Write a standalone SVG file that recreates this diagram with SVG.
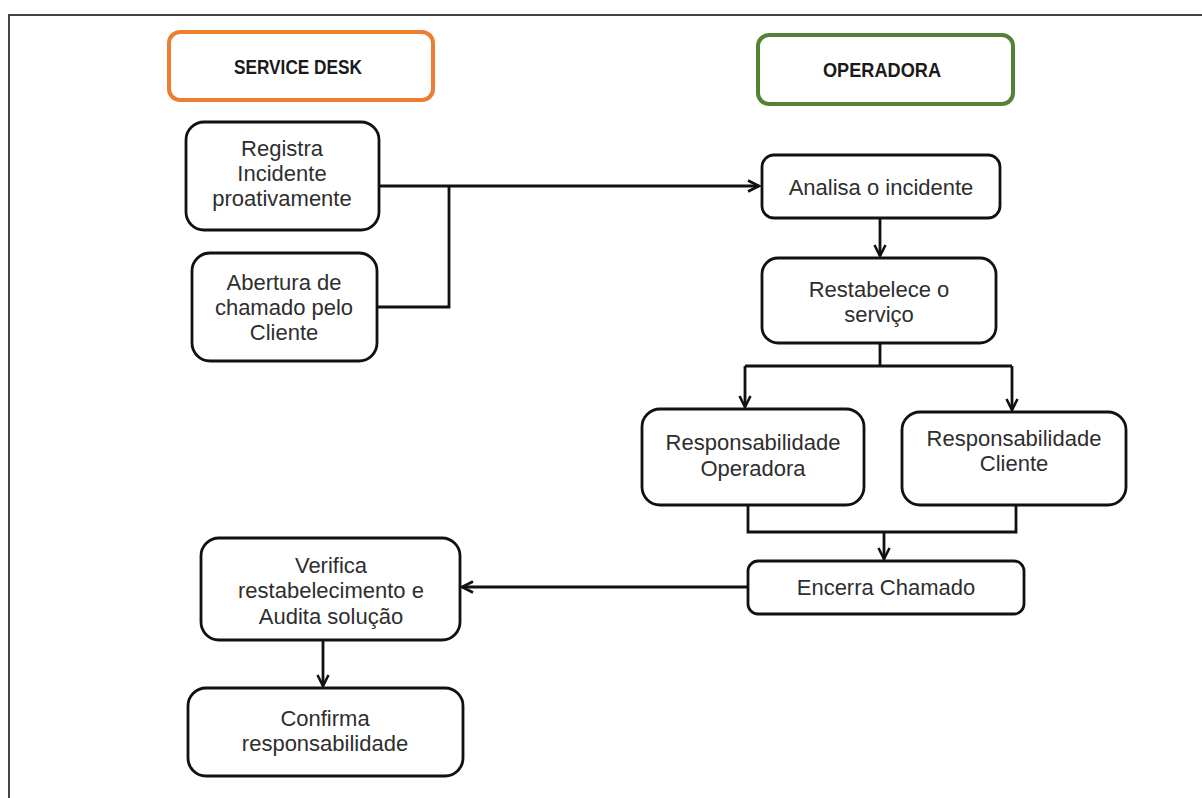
<svg xmlns="http://www.w3.org/2000/svg" width="1202" height="798" viewBox="0 0 1202 798">
<style>
.box{fill:#fff;stroke:#111;stroke-width:2.8}
.t{font-family:"Liberation Sans",Arial,sans-serif;font-size:22px;fill:#2e2e2e;text-anchor:middle}
.h{font-family:"Liberation Sans",Arial,sans-serif;font-size:20px;font-weight:bold;fill:#1a1a1a;text-anchor:middle}
.c{fill:none;stroke:#111;stroke-width:2.8}
</style>
<defs>
<marker id="arr" viewBox="0 0 14 14" refX="12.5" refY="7" markerWidth="14" markerHeight="14" markerUnits="userSpaceOnUse" orient="auto">
<path d="M1.5,1.5 L12.5,7 L1.5,12.5" fill="none" stroke="#111" stroke-width="2.6"/>
</marker>
</defs>
<rect width="1202" height="798" fill="#fff"/>
<g id="frame">
<path d="M9,798 V15 H1202" fill="none" stroke="#444" stroke-width="2"/>
</g>
<g id="service-desk">
<rect x="169" y="32" width="264" height="68" rx="11" fill="#fff" stroke="#ED7D31" stroke-width="4"/>
<text class="h" x="298" y="74" textLength="128" lengthAdjust="spacingAndGlyphs">SERVICE DESK</text>
</g>
<g id="operadora">
<rect x="758" y="35" width="255" height="69" rx="11" fill="#fff" stroke="#548235" stroke-width="4"/>
<text class="h" x="882" y="77" textLength="118" lengthAdjust="spacingAndGlyphs">OPERADORA</text>
</g>
<g id="connectors">
<path class="c" d="M379,186 H759" marker-end="url(#arr)"/>
<path class="c" d="M377,307 H449 V186"/>
<path class="c" d="M880,218 V256" marker-end="url(#arr)"/>
<path class="c" d="M880,343 V366"/>
<path class="c" d="M745,366 H1012"/>
<path class="c" d="M745,366 V407" marker-end="url(#arr)"/>
<path class="c" d="M1012,366 V410" marker-end="url(#arr)"/>
<path class="c" d="M748,505 V532 H1016 V505"/>
<path class="c" d="M884,532 V559" marker-end="url(#arr)"/>
<path class="c" d="M748,587 H462" marker-end="url(#arr)"/>
<path class="c" d="M323,640 V686" marker-end="url(#arr)"/>
</g>
<g id="registra">
<rect class="box" x="186" y="122" width="193" height="108" rx="18"/>
<text class="t" x="282" y="156">Registra</text>
<text class="t" x="282" y="181">Incidente</text>
<text class="t" x="282" y="206">proativamente</text>
</g>
<g id="abertura">
<rect class="box" x="192" y="253" width="185" height="108" rx="18"/>
<text class="t" x="284" y="290">Abertura de</text>
<text class="t" x="284" y="315">chamado pelo</text>
<text class="t" x="284" y="340">Cliente</text>
</g>
<g id="analisa">
<rect class="box" x="762" y="155" width="238" height="63" rx="12"/>
<text class="t" x="881" y="195">Analisa o incidente</text>
</g>
<g id="restabelece">
<rect class="box" x="762" y="258" width="234" height="85" rx="16"/>
<text class="t" x="879" y="297">Restabelece o</text>
<text class="t" x="879" y="322">serviço</text>
</g>
<g id="resp-operadora">
<rect class="box" x="642" y="409" width="222" height="96" rx="18"/>
<text class="t" x="753" y="450">Responsabilidade</text>
<text class="t" x="753" y="476">Operadora</text>
</g>
<g id="resp-cliente">
<rect class="box" x="902" y="412" width="224" height="93" rx="18"/>
<text class="t" x="1014" y="446">Responsabilidade</text>
<text class="t" x="1014" y="471">Cliente</text>
</g>
<g id="encerra">
<rect class="box" x="748" y="561" width="276" height="53" rx="10"/>
<text class="t" x="886" y="595">Encerra Chamado</text>
</g>
<g id="verifica">
<rect class="box" x="201" y="538" width="259" height="102" rx="18"/>
<text class="t" x="331" y="573">Verifica</text>
<text class="t" x="331" y="598">restabelecimento e</text>
<text class="t" x="331" y="624">Audita solução</text>
</g>
<g id="confirma">
<rect class="box" x="188" y="688" width="275" height="88" rx="18"/>
<text class="t" x="325" y="726">Confirma</text>
<text class="t" x="325" y="751">responsabilidade</text>
</g>
</svg>
